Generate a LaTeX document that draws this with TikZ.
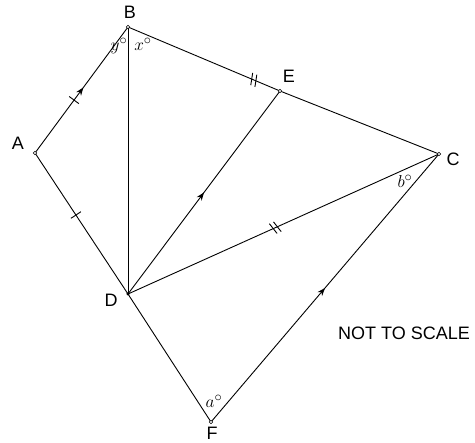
\documentclass[tikz,border=0pt]{standalone}
\usepackage{fontspec}
\setsansfont{Liberation Sans}
\usetikzlibrary{decorations.markings,arrows.meta}
\begin{document}
\begin{tikzpicture}[x=1pt,y=-1pt,
  seg/.style={line width=0.9pt},
  midarrow/.style={postaction={decorate,decoration={markings,mark=at position #1 with {\arrow{Stealth[length=8pt,width=6pt]}}}}},
  onetick/.style={postaction={decorate,decoration={markings,mark=at position #1 with {\draw[line width=0.9pt] (0,-6)--(0,6);}}}},
  twotick/.style={postaction={decorate,decoration={markings,mark=at position #1 with {\draw[line width=0.9pt] (-2.5,-6)--(0.5,6) (2,-6)--(5,6);}}}},
  vtx/.style={circle,draw,fill=white,inner sep=0pt,minimum size=3.5pt,line width=0.6pt},
  lbl/.style={font=\sffamily\fontsize{18}{18}\selectfont},
  ang/.style={font=\fontsize{19}{19}\selectfont\itshape,inner sep=0pt}]
\useasboundingbox (0,0) rectangle (475,443);
\coordinate (A) at (35,153);
\coordinate (B) at (128,27);
\coordinate (E) at (280,91);
\coordinate (C) at (439,154);
\coordinate (D) at (128,294);
\coordinate (F) at (211,422);
\draw[seg,midarrow=0.52,onetick=0.42] (A) -- (B);
\draw[seg,onetick=0.44] (A) -- (D);
\draw[seg,twotick=0.82] (B) -- (E);
\draw[seg] (E) -- (C);
\draw[seg] (B) -- (D);
\draw[seg,midarrow=0.5] (D) -- (E);
\draw[seg,twotick=0.47] (D) -- (C);
\draw[seg] (D) -- (F);
\draw[seg,midarrow=0.5] (F) -- (C);
\node[vtx] (nA) at (A) {};
\node[vtx] (nB) at (B) {};
\node[vtx] (nE) at (E) {};
\node[vtx] (nC) at (C) {};
\node[vtx] (nF) at (F) {};
\node[circle,fill,inner sep=0pt,minimum size=3.5pt] (nD) at (D) {};
\node[lbl] (lA) at (18,143) {A};
\node[lbl] (lB) at (130,12) {B};
\node[lbl] (lE) at (289,76) {E};
\node[lbl] (lC) at (453,159) {C};
\node[lbl] (lD) at (111,300) {D};
\node[lbl] (lF) at (212,433) {F};
\node[lbl] (nts) at (404,333) {NOT TO SCALE};
\node[ang] (y) at (119,46) {$y^\circ$};
\node[ang] (x) at (143,44) {$x^\circ$};
\node[ang] (b) at (405,181) {$b^\circ$};
\node[ang] (a) at (214,401) {$a^\circ$};
\end{tikzpicture}
\end{document}
